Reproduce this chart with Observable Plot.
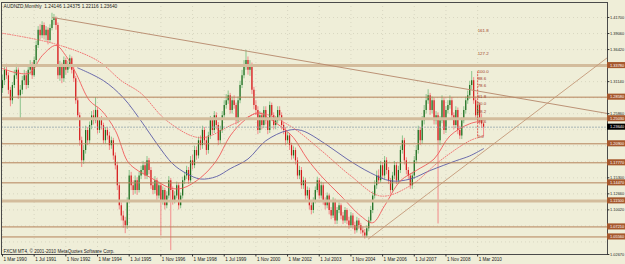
<!DOCTYPE html>
<html><head><meta charset="utf-8">
<script src="https://cdn.jsdelivr.net/npm/d3@7"></script>
<script src="https://cdn.jsdelivr.net/npm/@observablehq/plot@0.6"></script>
<style>
html,body{margin:0;padding:0;background:#efeed8;}
#chart svg{display:block;}
</style></head><body><div id="chart"></div>
<script>
// ---- monthly candles, bar 0 = Mar 1990 ----
const firstOpen = 1.300;
const close = [
1.313,1.330,1.321,1.297,1.280,1.305,1.321,1.330,1.288,1.297,1.313,1.321,
1.305,1.330,1.338,1.321,1.346,1.371,1.396,1.387,1.404,1.387,1.396,1.379,
1.399,1.412,1.415,1.404,1.321,1.338,1.316,1.346,1.330,1.338,1.349,1.330,
1.316,1.280,1.255,1.214,1.181,1.198,1.231,1.214,1.239,1.255,1.247,1.264,
1.231,1.247,1.239,1.214,1.231,1.222,1.206,1.214,1.189,1.173,1.140,1.107,
1.090,1.082,1.074,1.115,1.156,1.140,1.132,1.148,1.132,1.156,1.165,1.173,
1.156,1.181,1.165,1.140,1.132,1.148,1.123,1.140,1.115,1.132,1.107,1.123,
1.148,1.132,1.115,1.123,1.140,1.107,1.123,1.148,1.156,1.165,1.148,1.181,
1.173,1.198,1.189,1.214,1.206,1.231,1.214,1.198,1.222,1.247,1.231,1.255,
1.239,1.214,1.231,1.255,1.272,1.280,1.288,1.264,1.280,1.272,1.247,1.280,
1.305,1.321,1.338,1.346,1.330,1.338,1.297,1.272,1.264,1.231,1.255,1.239,
1.264,1.247,1.231,1.272,1.255,1.239,1.247,1.264,1.255,1.239,1.231,1.214,
1.222,1.206,1.189,1.198,1.181,1.156,1.165,1.140,1.148,1.123,1.132,1.107,
1.099,1.115,1.132,1.148,1.123,1.140,1.115,1.107,1.123,1.099,1.090,1.115,
1.082,1.099,1.107,1.090,1.082,1.099,1.082,1.074,1.090,1.074,1.066,1.082,
1.074,1.066,1.062,1.057,1.069,1.082,1.099,1.123,1.140,1.156,1.148,1.173,
1.156,1.181,1.165,1.148,1.132,1.156,1.173,1.148,1.165,1.198,1.214,1.181,
1.165,1.156,1.140,1.156,1.181,1.198,1.231,1.214,1.247,1.264,1.280,1.288,
1.264,1.280,1.247,1.255,1.214,1.247,1.280,1.231,1.264,1.272,1.280,1.255,
1.239,1.264,1.231,1.222,1.247,1.264,1.280,1.288,1.305,1.313,1.280,1.255,
1.272,1.247,1.2415,1.2364];
const high = [
1.322,1.338,1.340,1.326,1.302,1.310,1.330,1.340,1.334,1.305,1.320,1.330,
1.328,1.336,1.346,1.343,1.352,1.378,1.402,1.405,1.410,1.408,1.402,1.400,
1.405,1.424,1.422,1.418,1.408,1.345,1.342,1.352,1.350,1.345,1.355,1.352,
1.336,1.320,1.285,1.260,1.220,1.206,1.238,1.236,1.245,1.262,1.264,1.285,
1.268,1.252,1.254,1.243,1.236,1.236,1.228,1.220,1.218,1.194,1.178,1.145,
1.112,1.098,1.088,1.120,1.165,1.162,1.148,1.156,1.153,1.162,1.172,1.180,
1.178,1.188,1.185,1.170,1.146,1.155,1.152,1.146,1.145,1.138,1.136,1.130,
1.155,1.152,1.138,1.130,1.146,1.144,1.128,1.154,1.162,1.172,1.170,1.188,
1.190,1.205,1.204,1.220,1.222,1.238,1.236,1.220,1.228,1.254,1.252,1.262,
1.260,1.244,1.238,1.262,1.280,1.290,1.296,1.292,1.286,1.288,1.276,1.286,
1.312,1.330,1.346,1.363,1.352,1.346,1.342,1.302,1.280,1.270,1.262,1.260,
1.270,1.270,1.252,1.278,1.276,1.260,1.254,1.270,1.270,1.260,1.244,1.236,
1.228,1.226,1.210,1.204,1.202,1.186,1.172,1.170,1.154,1.152,1.138,1.136,
1.112,1.120,1.138,1.154,1.152,1.146,1.144,1.120,1.128,1.126,1.104,1.120,
1.118,1.104,1.112,1.110,1.096,1.104,1.102,1.088,1.096,1.094,1.080,1.088,
1.086,1.078,1.072,1.068,1.074,1.088,1.106,1.130,1.148,1.164,1.166,1.180,
1.178,1.188,1.186,1.170,1.152,1.162,1.180,1.178,1.172,1.205,1.222,1.218,
1.186,1.170,1.160,1.162,1.188,1.206,1.238,1.236,1.254,1.272,1.290,1.298,
1.292,1.286,1.284,1.262,1.260,1.254,1.288,1.284,1.270,1.280,1.288,1.285,
1.260,1.270,1.268,1.238,1.252,1.270,1.286,1.296,1.312,1.328,1.318,1.286,
1.278,1.276,1.258,1.24375];
const low = [
1.292,1.305,1.315,1.290,1.270,1.274,1.300,1.315,1.282,1.250,1.290,1.305,
1.298,1.300,1.322,1.315,1.318,1.340,1.366,1.380,1.382,1.380,1.378,1.372,
1.375,1.395,1.404,1.396,1.315,1.312,1.308,1.310,1.322,1.325,1.332,1.324,
1.310,1.274,1.248,1.205,1.170,1.175,1.192,1.206,1.208,1.232,1.240,1.242,
1.225,1.226,1.232,1.208,1.208,1.215,1.198,1.200,1.182,1.166,1.132,1.100,
1.082,1.070,1.061,1.068,1.110,1.132,1.124,1.126,1.124,1.128,1.150,1.158,
1.150,1.150,1.158,1.134,1.125,1.126,1.116,1.118,1.057,1.108,1.100,1.102,
1.118,1.033,1.108,1.110,1.118,1.100,1.102,1.118,1.142,1.150,1.142,1.144,
1.166,1.168,1.182,1.184,1.198,1.200,1.206,1.190,1.192,1.216,1.224,1.226,
1.232,1.206,1.208,1.226,1.250,1.266,1.274,1.258,1.258,1.266,1.240,1.242,
1.275,1.300,1.316,1.330,1.322,1.320,1.290,1.265,1.256,1.224,1.226,1.232,
1.234,1.240,1.224,1.226,1.248,1.232,1.232,1.242,1.248,1.232,1.224,1.206,
1.208,1.198,1.182,1.184,1.174,1.150,1.150,1.134,1.134,1.116,1.118,1.100,
1.092,1.094,1.110,1.128,1.118,1.118,1.108,1.100,1.102,1.092,1.084,1.086,
1.076,1.076,1.094,1.084,1.076,1.078,1.076,1.068,1.070,1.068,1.060,1.062,
1.068,1.060,1.056,1.052,1.054,1.064,1.078,1.094,1.118,1.134,1.142,1.144,
1.150,1.150,1.158,1.142,1.126,1.128,1.150,1.142,1.142,1.160,1.192,1.174,
1.158,1.150,1.134,1.134,1.150,1.176,1.192,1.206,1.208,1.240,1.258,1.274,
1.256,1.258,1.240,1.240,1.077,1.206,1.242,1.224,1.226,1.258,1.266,1.248,
1.232,1.234,1.224,1.216,1.216,1.242,1.258,1.274,1.282,1.298,1.274,1.248,
1.250,1.240,1.234,1.22116];

// ---- moving averages (bar index, price) ----
const maFastIdx = [0,7,14,20,27,32,37,44,50,57,63,67,75,85,91,100,108,115,122,129,135,142,147,154,161,171,181,187,193,201,209,218,226,236,243];
const maFastVal = [1.333,1.326,1.326,1.354,1.371,1.354,1.326,1.280,1.264,1.231,1.181,1.168,1.153,1.136,1.136,1.153,1.181,1.222,1.247,1.260,1.250,1.234,1.219,1.184,1.156,1.123,1.090,1.079,1.107,1.148,1.165,1.184,1.222,1.242,1.247];
const maMidIdx = [0,26,48,60,70,83,100,117,130,145,161,176,191,206,221,236,243];
const maMidVal = [1.391,1.374,1.346,1.313,1.292,1.247,1.219,1.242,1.259,1.239,1.198,1.156,1.123,1.140,1.181,1.214,1.222];
const maSlowIdx = [38,51,61,71,78,86,93,100,108,115,124,133,144,151,163,174,186,196,206,216,229,236,243];
const maSlowVal = [1.334,1.313,1.285,1.242,1.209,1.176,1.160,1.151,1.155,1.168,1.184,1.214,1.231,1.231,1.209,1.184,1.161,1.148,1.151,1.165,1.181,1.189,1.201];

// ---- horizontal levels ----
const thinLevels = [1.2858, 1.2090, 1.1777, 1.1447, 1.0721, 1.0556];
const thickLevels = [1.3378, 1.2503, 1.1150];
const levelLabels = ["1.28580","1.20900","1.17770","1.14470","1.07210","1.05560","1.33780","1.25030","1.11500"];
const bidPrice = 1.2364;

// ---- trendlines (bar index, price) ----
const downTrend = [{i: 25.3, p: 1.417}, {i: 305.6, p: 1.2589}];
const upTrend = [{i: 184.8, p: 1.0523}, {i: 305.6, p: 1.3510}];

// ---- fibonacci ----
const fibBar = 240;
const fib100 = 1.3283, fib0 = 1.2206;
const fibLevels = [161.8, 127.2, 100.0, 88.6, 78.6, 61.8, 50.0, 38.2, 23.6, 0.0];

// ---- axis labels ----
const priceTicks = [1.41700,1.39060,1.36420,1.31140,1.25860,1.15300,1.12660,1.10020,1.07380,1.02670];
const priceTickLabels = ["1.41700","1.39060","1.36420","1.31140","1.25860","1.15300","1.12660","1.10020","1.07380","1.02670"];
const gridPrices = [1.41700,1.39060,1.36420,1.33780,1.31140,1.28500,1.25860,1.23220,1.20580,1.17940,1.15300,1.12660,1.10020,1.07380,1.04740];
const dateTickIdx = [0,16,32,48,64,80,96,112,128,144,160,176,192,208,224,240];
const dateLabels = ["1 Mar 1990","1 Jul 1991","1 Nov 1992","1 Mar 1994","1 Jul 1995","1 Nov 1996","1 Mar 1998","1 Jul 1999","1 Nov 2000","1 Mar 2002","1 Jul 2003","1 Nov 2004","1 Mar 2006","1 Jul 2007","1 Nov 2008","1 Mar 2010"];
const titleText = "AUDNZD,Monthly  1.24146 1.24375 1.22116 1.23640";
const footText = "FXCM MT4, © 2001-2010 MetaQuotes Software Corp.";

// ---- build ----
const xMin = -0.5, xMax = 305.6, xLab = 314.8;
const yMin = 1.0267, yMax = 1.44171;
const half = 0.0050;
const candles = close.map((c, i) => ({i, o: i ? close[i-1] : firstOpen, h: high[i], l: low[i], c, up: c >= (i ? close[i-1] : firstOpen)}));
const maF = maFastIdx.map((i, k) => ({i, v: maFastVal[k]}));
const maM = maMidIdx.map((i, k) => ({i, v: maMidVal[k]}));
const maS = maSlowIdx.map((i, k) => ({i, v: maSlowVal[k]}));
const levels = thinLevels.concat(thickLevels).map((v, k) => ({v, t: levelLabels[k]}));
const fibs = fibLevels.map(L => ({L, v: fib0 + (fib100 - fib0) * L / 100, t: L.toFixed(1)}));
const pTicks = priceTicks.map((v, k) => ({v, t: priceTickLabels[k]}));
const dTicks = dateTickIdx.map((i, k) => ({i, t: dateLabels[k]}));

const font = "Liberation Sans, Arial, sans-serif";
const axisFs = 3.9;
const chart = Plot.plot({
  width: 625, height: 264,
  marginLeft: 1, marginRight: 18, marginTop: 2, marginBottom: 10,
  x: {type: "linear", domain: [xMin, xMax], axis: null},
  y: {domain: [yMin, yMax], axis: null},
  style: {background: "#efeed8", fontFamily: font, fontSize: "4.6px", overflow: "visible"},
  marks: [
    // grid
    Plot.ruleY(gridPrices, {stroke: "#c9c8b4", strokeDasharray: "1,3", strokeWidth: 0.6}),
    Plot.ruleX(dateTickIdx, {stroke: "#c9c8b4", strokeDasharray: "1,3", strokeWidth: 0.6}),
    // candles
    Plot.ruleX(candles, {x: "i", y1: "l", y2: "h", stroke: d => d.up ? "#8cc48c" : "#f28a8a", strokeWidth: 1}),
    Plot.ruleX(candles, {x: "i", y1: "o", y2: "c", stroke: d => d.up ? "#1d6b1d" : "#d41c1c", strokeWidth: 1.2}),
    // moving averages
    Plot.line(maS, {x: "i", y: "v", stroke: "#5b5ba6", strokeWidth: 0.9, curve: "catmull-rom"}),
    Plot.line(maM, {x: "i", y: "v", stroke: "#f06a6a", strokeWidth: 0.9, strokeDasharray: "1,1.5", curve: "catmull-rom"}),
    Plot.line(maF, {x: "i", y: "v", stroke: "#f05a5a", strokeWidth: 0.9, curve: "catmull-rom"}),
    // horizontal levels
    Plot.ruleY(thickLevels, {stroke: "#d3bc9c", strokeWidth: 3, x1: xMin, x2: xMax}),
    Plot.ruleY(thinLevels, {stroke: "#b5825a", strokeWidth: 1, x1: xMin, x2: xMax}),
    Plot.ruleY([bidPrice], {stroke: "#96a6ad", strokeWidth: 0.8, strokeDasharray: "2,1", x1: xMin, x2: xMax}),
    // trendlines
    Plot.line(downTrend, {x: "i", y: "p", stroke: "#b5876a", strokeWidth: 0.9, clip: true}),
    Plot.line(upTrend, {x: "i", y: "p", stroke: "#c49878", strokeWidth: 0.9, clip: true}),
    // fibonacci
    Plot.ruleX([fibBar], {y1: fib0, y2: fib100, stroke: "#e03a3a", strokeWidth: 0.8, strokeDasharray: "2,1"}),
    Plot.text(fibs, {x: fibBar, y: "v", text: "t", textAnchor: "start", dx: 0, fill: "#a0402a", fontSize: 4.4}),
    // frame
    Plot.frame({stroke: "#4a4a4a", strokeWidth: 1}),
    // right axis ticks + labels
    Plot.ruleY(pTicks, {y: "v", x1: xMax, x2: xMax + 1.2, stroke: "#333"}),
    Plot.text(pTicks, {x: xMax, y: "v", text: "t", textAnchor: "start", dx: 2.6, fill: "#222", fontSize: axisFs}),
    Plot.rect(levels, {x1: xMax, x2: xLab, y1: d => d.v - half, y2: d => d.v + half, fill: "#a6582d"}),
    Plot.text(levels, {x: xMax, y: "v", text: "t", textAnchor: "start", dx: 2.6, fill: "#fff", fontSize: axisFs}),
    Plot.rect([bidPrice], {x1: xMax, x2: xLab, y1: d => d - half, y2: d => d + half, fill: "#000"}),
    Plot.text([bidPrice], {x: xMax, y: d => d, text: d => d.toFixed(5), textAnchor: "start", dx: 2.6, fill: "#fff", fontSize: axisFs}),
    // bottom axis
    Plot.ruleX(dTicks, {x: "i", y1: yMin, y2: yMin - 0.004, stroke: "#333"}),
    Plot.text(dTicks, {x: "i", y: yMin, text: "t", textAnchor: "start", dx: 1, dy: 5, fill: "#222", fontSize: 4.6}),
    // title & footer
    Plot.text([titleText], {frameAnchor: "top-left", dx: 2, dy: 2.5, fill: "#222", fontSize: 4.8}),
    Plot.text([footText], {frameAnchor: "bottom-left", dx: 2, dy: -2, fill: "#222", fontSize: 4.6})
  ]
});
document.getElementById("chart").appendChild(chart);
</script>
</body></html>
